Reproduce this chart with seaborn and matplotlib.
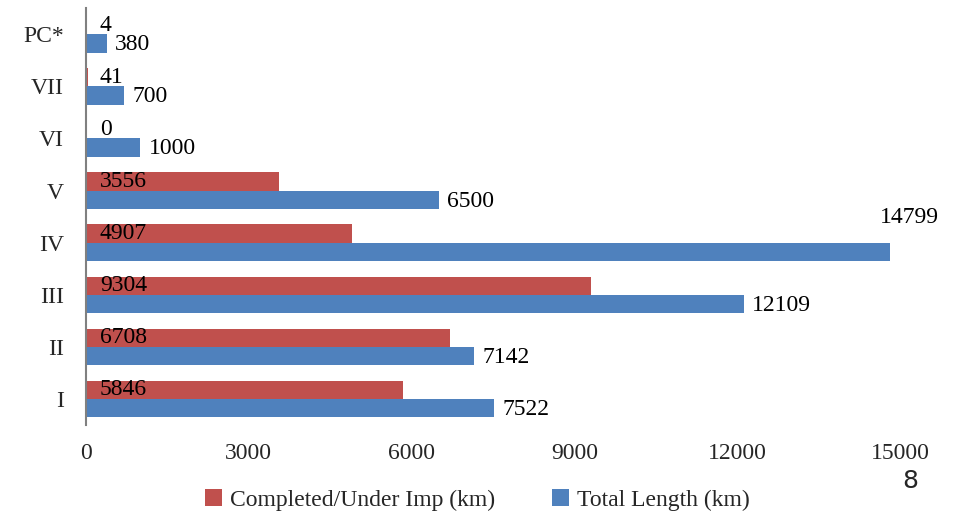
import pandas as pd
import matplotlib
matplotlib.use("Agg")
import matplotlib.pyplot as plt
import seaborn as sns

# data (top to bottom)
zones = ["PC*", "VII", "VI", "V", "IV", "III", "II", "I"]
completed = [4, 41, 0, 3556, 4907, 9304, 6708, 5846]
total = [380, 700, 1000, 6500, 14799, 12109, 7142, 7522]
series = ["Completed/Under Imp (km)", "Total Length (km)"]
xticks = [0, 3000, 6000, 9000, 12000, 15000]

RED = "#C0504D"
BLUE = "#4F81BD"
FS = 17

sns.set_style("white")
plt.rcParams["font.family"] = ["Liberation Serif", "DejaVu Serif"]

df = pd.DataFrame({
    "zone": zones * 2,
    "series": [series[0]] * len(zones) + [series[1]] * len(zones),
    "km": completed + total,
})

fig = plt.figure(figsize=(9.55, 5.14), dpi=100)
ax = fig.add_axes([0.09, 0.173, 0.853, 0.811])

sns.barplot(data=df, y="zone", x="km", hue="series", order=zones,
            hue_order=series, palette=[RED, BLUE], orient="h", width=0.7,
            saturation=1, linewidth=0, ax=ax)

handles, labels = ax.get_legend_handles_labels()
ax.get_legend().remove()

# red labels sit inside the bar, near the base
for bar, v in zip(ax.containers[0], completed):
    ax.annotate(str(v), xy=(0, bar.get_y() + bar.get_height() / 2),
                xytext=(10, 0), textcoords="offset points",
                ha="left", va="center", fontsize=FS, color="black")

# blue labels just past the bar end
for bar, v in zip(ax.containers[1], total):
    yc = bar.get_y() + bar.get_height() / 2
    if v > 14000:
        ax.annotate(str(v), xy=(bar.get_width(), yc), xytext=(-7, 25),
                    textcoords="offset points", ha="left", va="center",
                    fontsize=FS, color="black", annotation_clip=False)
    else:
        ax.annotate(str(v), xy=(bar.get_width(), yc), xytext=(6, -1),
                    textcoords="offset points", ha="left", va="center",
                    fontsize=FS, color="black")

ax.set_xlim(0, 15000)
ax.set_xticks(xticks)
ax.set_xticklabels([str(t) for t in xticks])
ax.set_xlabel("")
ax.set_ylabel("")
ax.tick_params(axis="x", length=0, pad=13, labelsize=FS)
ax.tick_params(axis="y", length=0, pad=16, labelsize=FS)
sns.despine(ax=ax, top=True, right=True, bottom=True)
ax.spines["left"].set_color("#808080")
ax.spines["left"].set_linewidth(1.5)

fig.legend(handles, labels, loc="lower center", bbox_to_anchor=(0.5, -0.035),
           ncol=2, frameon=False, fontsize=FS, handlelength=0.7,
           handleheight=0.7, handletextpad=0.35, columnspacing=2.4)

fig.text(0.961, 0.05, "8", fontsize=18, family="DejaVu Sans", ha="right")

fig.savefig("out.png", dpi=100)
